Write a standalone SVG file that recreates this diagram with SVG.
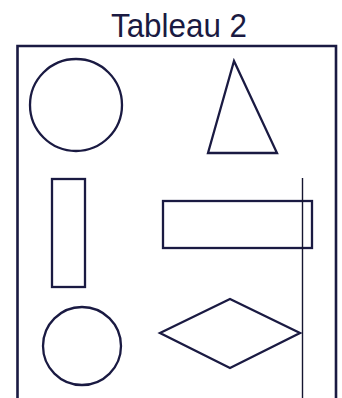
<svg xmlns="http://www.w3.org/2000/svg" width="342" height="398" viewBox="0 0 342 398">
<style>
.s{fill:none;stroke:#1a1a42;stroke-width:2.3}
.t{font-family:"Liberation Sans",Arial,sans-serif;font-size:33px;fill:#1a1a42}
</style>
<rect width="342" height="398" fill="#fff"/>
<text class="t" x="111" y="37" textLength="136" lengthAdjust="spacingAndGlyphs">Tableau 2</text>
<path d="M17.5,398 V46 H336 V398" fill="none" stroke="#1a1a42" stroke-width="2.6"/>
<g id="circle1"><circle class="s" cx="76" cy="105" r="46"/></g>
<g id="triangle"><polygon class="s" points="234,61 277,153 208,153"/></g>
<g id="rect-tall"><rect class="s" x="52" y="179" width="33" height="108"/></g>
<g id="rect-wide"><rect class="s" x="163" y="201" width="149" height="47"/></g>
<g id="circle2"><circle class="s" cx="82" cy="346" r="39"/></g>
<g id="diamond"><polygon class="s" points="160,333 230,299 300,333 230,368"/></g>
<g id="connectors"><line x1="302.5" y1="178" x2="302.5" y2="398" stroke="#151530" stroke-width="1.4"/></g>
</svg>
